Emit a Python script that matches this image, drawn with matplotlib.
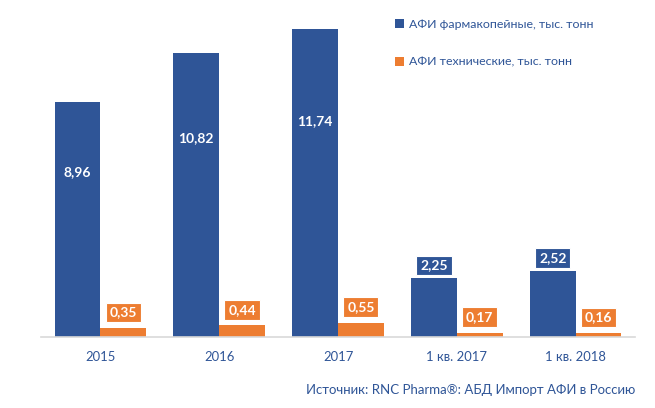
import matplotlib
matplotlib.use("Agg")
import matplotlib.pyplot as plt
import numpy as np

categories = ["2015", "2016", "2017", "1 кв. 2017", "1 кв. 2018"]
pharma = [8.96, 10.82, 11.74, 2.25, 2.52]
tech = [0.35, 0.44, 0.55, 0.17, 0.16]
series_names = ["АФИ фармакопейные, тыс. тонн", "АФИ технические, тыс. тонн"]
source = "Источник: RNC Pharma®: АБД Импорт АФИ в Россию"

BLUE = "#2F5597"
ORANGE = "#ED7D31"
TXT = "#2F5597"

plt.rcParams['font.family'] = ['Lato', 'DejaVu Sans']

fig = plt.figure(figsize=(6.55, 4.08), dpi=100)
ax = fig.add_axes([41/655, 1 - 337/408, 594/655, 317/408])

x = np.arange(len(categories))
w = 0.385
b1 = ax.bar(x - w/2, pharma, w, color=BLUE, label=series_names[0])
b2 = ax.bar(x + w/2, tech, w, color=ORANGE, label=series_names[1])

ax.set_xlim(-0.5, len(categories) - 0.5)
ax.set_ylim(0, 12.08)
ax.set_yticks([])
for s in ["top", "right", "left"]:
    ax.spines[s].set_visible(False)
ax.spines["bottom"].set_color("#D9D9D9")
ax.spines["bottom"].set_linewidth(1.2)
ax.set_xticks(x)
ax.set_xticklabels(categories, fontsize=9.4, color=TXT)
ax.tick_params(axis="x", length=0, pad=10)

def fmt(v):
    return f"{v:.2f}".replace(".", ",")

for xi, v in zip(x, pharma):
    if v > 5:
        ax.text(xi - w/2, v * 0.7, fmt(v), ha="center", va="center",
                color="white", fontsize=10, fontweight="bold")
    else:
        ax.annotate(fmt(v), (xi - w/2, v), xytext=(0, 9), textcoords="offset points",
                    ha="center", va="center", color="white", fontsize=10, fontweight="bold",
                    bbox=dict(boxstyle="square,pad=0.28", fc=BLUE, ec="white", lw=0.8))
for xi, v in zip(x, tech):
    ax.annotate(fmt(v), (xi + w/2, v), xytext=(0, 11), textcoords="offset points",
                ha="center", va="center", color="white", fontsize=10, fontweight="bold",
                bbox=dict(boxstyle="square,pad=0.28", fc=ORANGE, ec="white", lw=0.8))

leg = fig.legend(handles=[b1, b2], loc="upper left", bbox_to_anchor=(384/655, 1 - 8/408),
                 frameon=False, fontsize=8.9, handlelength=0.75, handleheight=0.75,
                 handletextpad=0.4, labelspacing=2.15)
for t in leg.get_texts():
    t.set_color(TXT)

fig.text(635/655, 1 - 390/408, source, ha="right", va="center", fontsize=9.5, color=TXT)

fig.savefig("out.png", dpi=100)
